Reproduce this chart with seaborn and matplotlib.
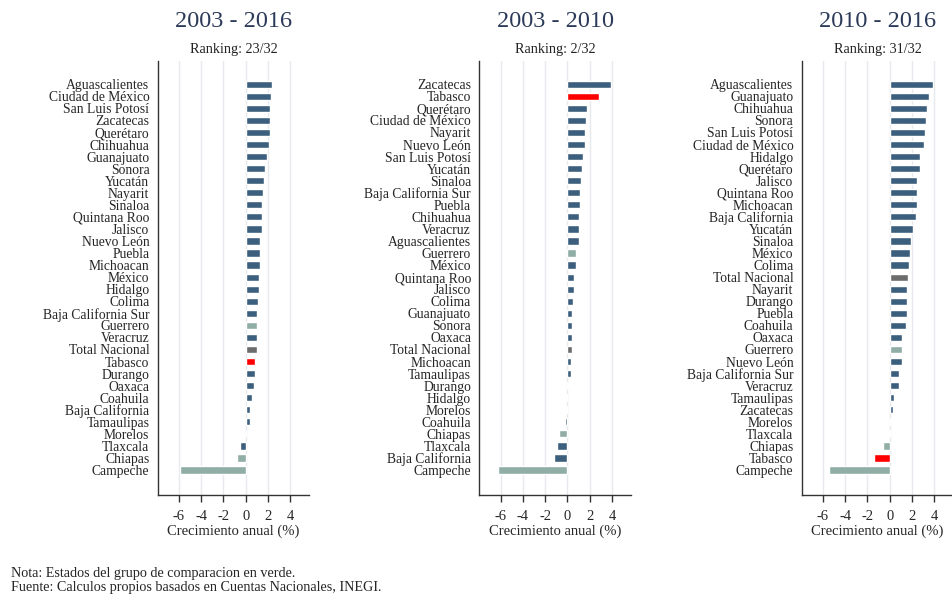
import pandas as pd
import seaborn as sns
import matplotlib.pyplot as plt

# Crecimiento anual (%) por estado
states_0316 = ['Aguascalientes', 'Ciudad de México', 'San Luis Potosí', 'Zacatecas',
               'Querétaro', 'Chihuahua', 'Guanajuato', 'Sonora', 'Yucatán', 'Nayarit',
               'Sinaloa', 'Quintana Roo', 'Jalisco', 'Nuevo León', 'Puebla', 'Michoacan',
               'México', 'Hidalgo', 'Colima', 'Baja California Sur', 'Guerrero', 'Veracruz',
               'Total Nacional', 'Tabasco', 'Durango', 'Oaxaca', 'Coahuila',
               'Baja California', 'Tamaulipas', 'Morelos', 'Tlaxcala', 'Chiapas', 'Campeche']
values_0316 = [2.33, 2.27, 2.2, 2.2, 2.18, 2.1, 1.88, 1.7, 1.6, 1.52, 1.5, 1.5, 1.5,
               1.3, 1.3, 1.28, 1.2, 1.2, 1.07, 0.98, 0.98, 0.98, 0.97, 0.87, 0.8, 0.78,
               0.57, 0.4, 0.38, 0.02, -0.55, -0.75, -5.9]

states_0310 = ['Zacatecas', 'Tabasco', 'Querétaro', 'Ciudad de México', 'Nayarit',
               'Nuevo León', 'San Luis Potosí', 'Yucatán', 'Sinaloa', 'Baja California Sur',
               'Puebla', 'Chihuahua', 'Veracruz', 'Aguascalientes', 'Guerrero', 'México',
               'Quintana Roo', 'Jalisco', 'Colima', 'Guanajuato', 'Sonora', 'Oaxaca',
               'Total Nacional', 'Michoacan', 'Tamaulipas', 'Durango', 'Hidalgo', 'Morelos',
               'Coahuila', 'Chiapas', 'Tlaxcala', 'Baja California', 'Campeche']
values_0310 = [3.88, 2.87, 1.75, 1.66, 1.57, 1.57, 1.36, 1.27, 1.24, 1.15, 1.15, 1.07,
               1.07, 1.07, 0.8, 0.74, 0.62, 0.62, 0.5, 0.44, 0.44, 0.44, 0.41, 0.33, 0.33,
               0.1, -0.1, -0.08, -0.2, -0.77, -0.92, -1.2, -6.2]

states_1016 = ['Aguascalientes', 'Guanajuato', 'Chihuahua', 'Sonora', 'San Luis Potosí',
               'Ciudad de México', 'Hidalgo', 'Querétaro', 'Jalisco', 'Quintana Roo',
               'Michoacan', 'Baja California', 'Yucatán', 'Sinaloa', 'México', 'Colima',
               'Total Nacional', 'Nayarit', 'Durango', 'Puebla', 'Coahuila', 'Oaxaca',
               'Guerrero', 'Nuevo León', 'Baja California Sur', 'Veracruz', 'Tamaulipas',
               'Zacatecas', 'Morelos', 'Tlaxcala', 'Chiapas', 'Tabasco', 'Campeche']
values_1016 = [3.88, 3.55, 3.37, 3.25, 3.16, 3.04, 2.75, 2.75, 2.45, 2.45, 2.45, 2.33,
               2.06, 1.94, 1.82, 1.73, 1.64, 1.52, 1.52, 1.52, 1.43, 1.13, 1.13, 1.13,
               0.84, 0.84, 0.42, 0.3, 0.1, -0.08, -0.6, -1.43, -5.46]

titles = ['2003 - 2016', '2003 - 2010', '2010 - 2016']
rankings = ['Ranking: 23/32', 'Ranking: 2/32', 'Ranking: 31/32']

comparison_states = ['Guerrero', 'Chiapas', 'Campeche']
colors = {'otros': '#3d5f7e', 'comparacion': '#90aea5',
          'nacional': '#6c6c6c', 'tabasco': '#ff0000'}


def group_of(state):
    if state == 'Tabasco':
        return 'tabasco'
    if state == 'Total Nacional':
        return 'nacional'
    if state in comparison_states:
        return 'comparacion'
    return 'otros'


sns.set_style('white')
plt.rcParams['font.family'] = ['Liberation Serif', 'DejaVu Serif']
plt.rcParams['axes.unicode_minus'] = False

fig = plt.figure(figsize=(9.53, 5.96), dpi=100)
lefts = [0.1655, 0.503, 0.8412]
panels = [(states_0316, values_0316), (states_0310, values_0310),
          (states_1016, values_1016)]

for i, (states, vals) in enumerate(panels):
    ax = fig.add_axes([lefts[i], 0.1695, 0.159, 0.7282])
    df = pd.DataFrame({'estado': states, 'valor': vals})
    df['grupo'] = df['estado'].apply(group_of)
    sns.barplot(data=df, x='valor', y='estado', hue='grupo', palette=colors,
                dodge=False, legend=False, width=0.6, saturation=1, ax=ax,
                zorder=3)
    ax.set_xlim(-7.9, 5.7)
    ax.set_ylim(32 + 2.07, -1.93)
    ax.set_xticks([-6, -4, -2, 0, 2, 4])
    ax.xaxis.grid(True, color='#e6e9ee', linewidth=1.0, zorder=0)
    ax.yaxis.grid(False)
    ax.set_axisbelow(True)
    for side in ['top', 'right']:
        ax.spines[side].set_visible(False)
    for side in ['left', 'bottom']:
        ax.spines[side].set_color('#333333')
        ax.spines[side].set_linewidth(1.0)
    ax.tick_params(axis='x', length=5, width=1, color='#333333', labelsize=10.5,
                   pad=6, direction='out', bottom=True)
    ax.tick_params(axis='y', length=0, labelsize=9.8, pad=6)
    ax.set_ylabel('')
    ax.set_xlabel('Crecimiento anual (%)', fontsize=10.5, labelpad=1)
    ax.text(0.5, 1.09, titles[i], transform=ax.transAxes, ha='center', va='center',
            fontsize=17.5, color='#2b3a58')
    ax.text(0.5, 1.027, rankings[i], transform=ax.transAxes, ha='center',
            va='center', fontsize=10.2, color='#222222')

fig.text(0.012, 1 - 576.7 / 596, 'Nota: Estados del grupo de comparacion en verde.',
         fontsize=10.2, va='baseline', ha='left')
fig.text(0.012, 1 - 590.7 / 596,
         'Fuente: Calculos propios basados en Cuentas Nacionales, INEGI.',
         fontsize=10.2, va='baseline', ha='left')

fig.savefig('out.png', dpi=100)
